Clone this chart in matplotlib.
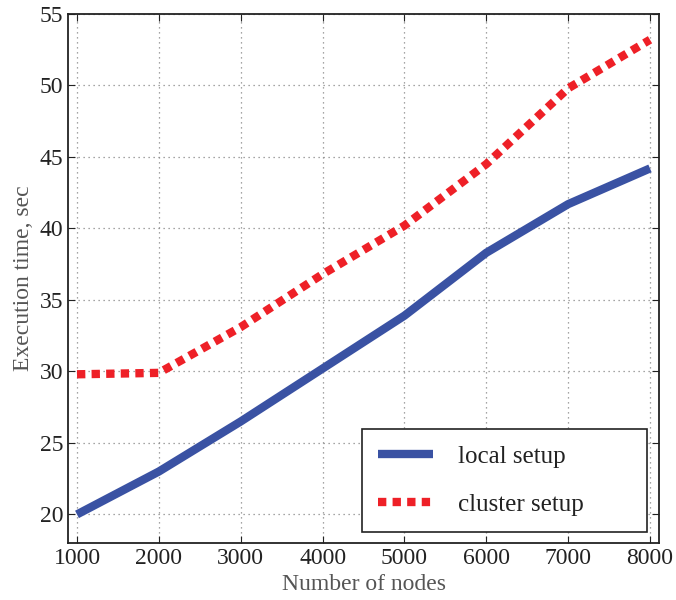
import matplotlib
matplotlib.use("Agg")
import matplotlib.pyplot as plt

nodes = [1000, 2000, 3000, 4000, 5000, 6000, 7000, 8000]
local_setup = [20.0, 23.0, 26.5, 30.2, 33.9, 38.3, 41.7, 44.2]
cluster_setup = [29.8, 29.9, 33.1, 36.8, 40.2, 44.5, 49.8, 53.2]
xticks = [1000, 2000, 3000, 4000, 5000, 6000, 7000, 8000]
yticks = [20, 25, 30, 35, 40, 45, 50, 55]

plt.rcParams['font.family'] = ['Liberation Serif', 'DejaVu Serif']

fig = plt.figure(figsize=(6.76, 6.0), dpi=100)
ax = fig.add_axes([68/676, 1-543/600, (659-68)/676, (543-14)/600])

ax.plot(nodes, local_setup, color='#3a52a3', lw=6, solid_capstyle='butt', label='local setup')
ax.plot(nodes, cluster_setup, color='#ee2027', lw=6, linestyle=(0, (1.0, 0.75)),
        dash_capstyle='butt', label='cluster setup')

ax.set_xlim(890, 8110)
ax.set_ylim(18, 55)
ax.set_xticks(xticks)
ax.set_yticks(yticks)
ax.tick_params(direction='in', labelsize=17, colors='#222222', length=5, top=True, right=True)
ax.grid(True, linestyle=(0, (1, 3)), color='#888888', lw=0.9)
for s in ax.spines.values():
    s.set_linewidth(1.3)
    s.set_color('#222222')

ax.set_xlabel('Number of nodes', fontsize=17, color='#555555', labelpad=4)
ax.set_ylabel('Execution time, sec', fontsize=17, color='#555555', labelpad=4)

leg = ax.legend(loc='lower left', bbox_to_anchor=(0.497, 0.0208, 0.483, 0.19), mode='expand',
                borderaxespad=0, fontsize=18, frameon=True, fancybox=False,
                edgecolor='#222222', handlelength=2.2, borderpad=0.65, labelspacing=1.0,
                handletextpad=1.0)
leg.get_frame().set_linewidth(1.2)
leg.get_frame().set_alpha(1)
for t in leg.get_texts():
    t.set_color('#222222')

fig.savefig('out.png', dpi=100)
